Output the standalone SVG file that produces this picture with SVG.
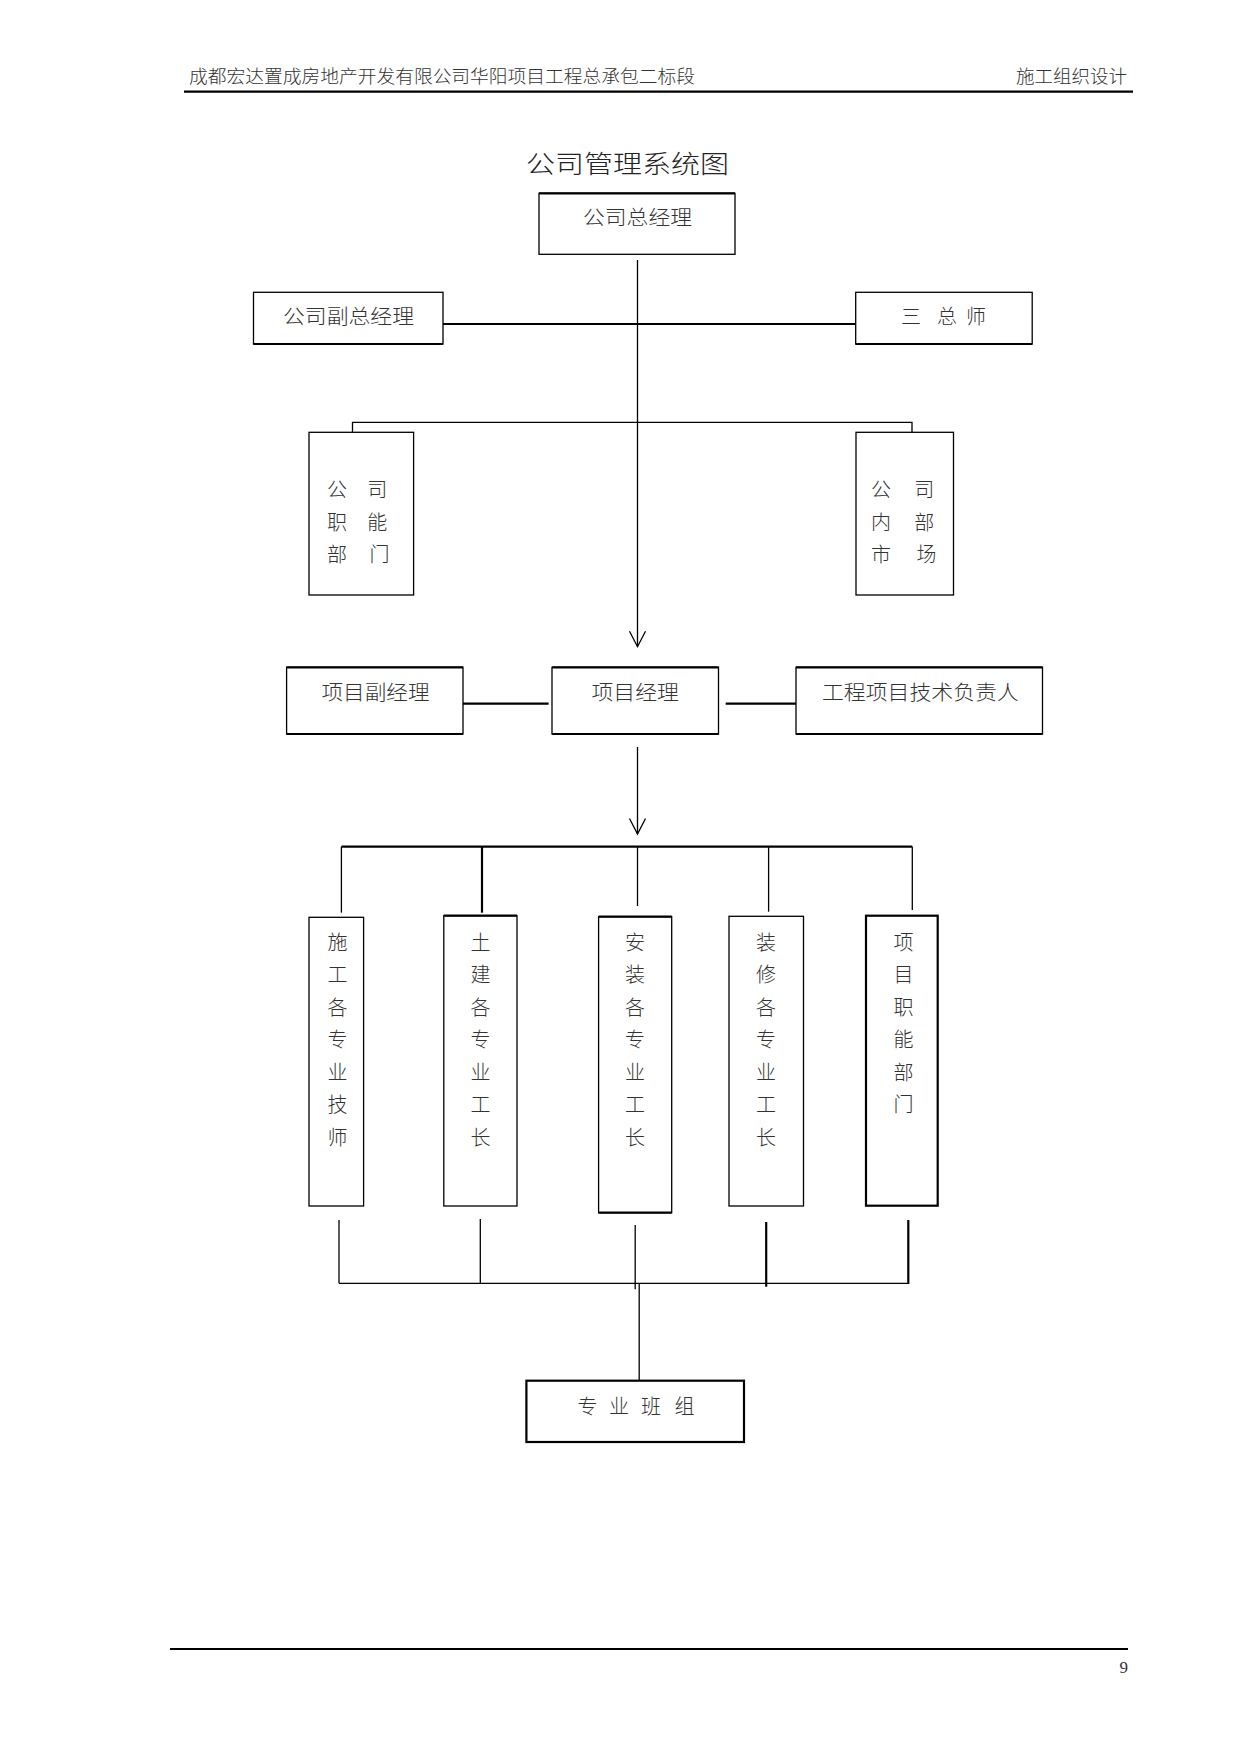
<svg xmlns="http://www.w3.org/2000/svg" width="1241" height="1754" viewBox="0 0 1241 1754">
<style>
  .t { font-family: "Noto Sans CJK SC", "Noto Sans", sans-serif; font-weight: 300; fill: #333; font-size: 20px; }
  .hd { font-family: "Noto Sans CJK SC", "Noto Sans", sans-serif; font-weight: 300; fill: #333; font-size: 18px; }
  .ttl { font-family: "Noto Sans CJK SC", "Noto Sans", sans-serif; font-weight: 300; fill: #222; font-size: 25px; }
  .pg { font-family: "Liberation Serif", serif; fill: #333; font-size: 17px; }
  .box { fill: #fff; stroke: #000; stroke-width: 1.3; }
  .boxb { fill: #fff; stroke: #000; stroke-width: 2.2; }
  .ln { fill: none; stroke: #000; stroke-width: 1.3; }
  .lnb { fill: none; stroke: #000; stroke-width: 2.2; }
  .rule { stroke: #000; stroke-width: 2.2; }
</style>
<defs>
  <marker id="arr" markerUnits="userSpaceOnUse" markerWidth="24" markerHeight="24" viewBox="-18 -12 24 24" refX="0" refY="0" orient="auto" overflow="visible">
    <path d="M -15.5 -8 L 0 0 L -15.5 8" fill="none" stroke="#000" stroke-width="1.3"/>
  </marker>
</defs>
<rect width="1241" height="1754" fill="#fff"/>

<g id="page">
  <text class="hd" x="189" y="83" textLength="506" lengthAdjust="spacingAndGlyphs">成都宏达置成房地产开发有限公司华阳项目工程总承包二标段</text>
  <text class="hd" x="1016" y="83" textLength="111" lengthAdjust="spacingAndGlyphs">施工组织设计</text>
  <line class="rule" x1="184" y1="91.7" x2="1133" y2="91.7"/>
  <text class="ttl" x="526" y="172.5" textLength="203" lengthAdjust="spacingAndGlyphs">公司管理系统图</text>
  <line class="rule" x1="170" y1="1649" x2="1128" y2="1649"/>
  <text class="pg" x="1128" y="1673" text-anchor="end">9</text>
</g>

<g id="connectors">
  <line class="ln" x1="637.5" y1="260" x2="637.5" y2="646.7" marker-end="url(#arr)"/>
  <line class="lnb" x1="443" y1="324" x2="855" y2="324"/>
  <polyline class="ln" points="352.5,432 352.5,422.3 912,422.3 912,432"/>
  <line class="lnb" x1="463" y1="703.7" x2="548.6" y2="703.7"/>
  <line class="lnb" x1="725.7" y1="703.7" x2="796" y2="703.7"/>
  <line class="ln" x1="637.5" y1="747" x2="637.5" y2="834" marker-end="url(#arr)"/>
  <line class="lnb" x1="341.4" y1="846.7" x2="912.3" y2="846.7"/>
  <line class="ln" x1="341.4" y1="846.7" x2="341.4" y2="912.7" stroke-width="1"/>
  <line class="lnb" x1="482" y1="846.7" x2="482" y2="912.7"/>
  <line class="ln" x1="637.5" y1="846.7" x2="637.5" y2="906" stroke-width="1.6"/>
  <line class="ln" x1="768.6" y1="846.7" x2="768.6" y2="911.7"/>
  <line class="ln" x1="912.3" y1="846.7" x2="912.3" y2="910"/>
  <line class="ln" x1="339" y1="1220" x2="339" y2="1283.3" stroke-width="1"/>
  <line class="ln" x1="480.3" y1="1219" x2="480.3" y2="1283.3" stroke-width="1"/>
  <line class="ln" x1="635.2" y1="1225" x2="635.2" y2="1289.3"/>
  <line class="lnb" x1="766.2" y1="1222" x2="766.2" y2="1286.7" stroke-width="2"/>
  <line class="lnb" x1="908.3" y1="1220" x2="908.3" y2="1284" stroke-width="2"/>
  <line class="ln" x1="339" y1="1283.3" x2="908.3" y2="1283.3" stroke-width="1.6"/>
  <line class="ln" x1="639.2" y1="1284" x2="639.2" y2="1380.7" stroke-width="1"/>
</g>

<g id="gm">
  <rect class="box" x="539" y="193.3" width="196" height="61"/>
  <line class="rule" x1="539" y1="193.3" x2="735" y2="193.3"/>
  <text class="t" x="583" y="225" textLength="109" lengthAdjust="spacingAndGlyphs">公司总经理</text>
</g>

<g id="vgm">
  <rect class="box" x="253.5" y="292.3" width="189.5" height="51.7"/>
  <line class="rule" x1="253.5" y1="344" x2="443" y2="344"/>
  <text class="t" x="283" y="324" textLength="131" lengthAdjust="spacingAndGlyphs">公司副总经理</text>
</g>

<g id="chiefs">
  <rect class="box" x="855.7" y="292.3" width="176.5" height="51.7"/>
  <line class="rule" x1="855.7" y1="344" x2="1032.2" y2="344"/>
  <text class="t" x="911 947 976" y="324" text-anchor="middle">三总师</text>
</g>

<g id="func-dept">
  <rect class="box" x="309" y="432.3" width="104.6" height="162.7"/>
  <text class="t" text-anchor="middle">
    <tspan x="337" y="496.5">公</tspan><tspan x="379.5" y="496.5">司</tspan>
    <tspan x="337" y="529.5">职</tspan><tspan x="379.5" y="529.5">能</tspan>
    <tspan x="337" y="562">部</tspan><tspan x="379.5" y="562">门</tspan>
  </text>
</g>

<g id="market">
  <rect class="box" x="856" y="432.3" width="97.5" height="162.7"/>
  <text class="t" text-anchor="middle">
    <tspan x="881" y="496.5">公</tspan><tspan x="926.5" y="496.5">司</tspan>
    <tspan x="881" y="529.5">内</tspan><tspan x="926.5" y="529.5">部</tspan>
    <tspan x="881" y="562">市</tspan><tspan x="926.5" y="562">场</tspan>
  </text>
</g>

<g id="pvm">
  <rect class="box" x="286.6" y="667.3" width="176.4" height="66.7"/>
  <line class="rule" x1="286.6" y1="667.3" x2="463" y2="667.3"/>
  <line class="rule" x1="286.6" y1="734" x2="463" y2="734"/>
  <text class="t" x="321.5" y="700" textLength="108" lengthAdjust="spacingAndGlyphs">项目副经理</text>
</g>

<g id="pm">
  <rect class="box" x="552" y="667.3" width="166.5" height="66.7"/>
  <line class="rule" x1="552" y1="667.3" x2="718.5" y2="667.3"/>
  <line class="rule" x1="552" y1="734" x2="718.5" y2="734"/>
  <text class="t" x="591.5" y="700" textLength="87.5" lengthAdjust="spacingAndGlyphs">项目经理</text>
</g>

<g id="tech">
  <rect class="box" x="796" y="667.3" width="246.5" height="66.7"/>
  <line class="rule" x1="796" y1="667.3" x2="1042.5" y2="667.3"/>
  <line class="rule" x1="796" y1="734" x2="1042.5" y2="734"/>
  <text class="t" x="822" y="700" textLength="196.7" lengthAdjust="spacingAndGlyphs">工程项目技术负责人</text>
</g>

<g id="techs">
  <rect class="box" x="309" y="917.3" width="54.6" height="288.7"/>
  <text class="t" text-anchor="middle">
    <tspan x="337.4" y="949.5">施</tspan><tspan x="337.4" y="982">工</tspan><tspan x="337.4" y="1014.5">各</tspan><tspan x="337.4" y="1047">专</tspan><tspan x="337.4" y="1079.5">业</tspan><tspan x="337.4" y="1112">技</tspan><tspan x="337.4" y="1144.5">师</tspan>
  </text>
</g>

<g id="civil">
  <rect class="box" x="443.8" y="915.7" width="73.2" height="290.3"/>
  <line class="rule" x1="443.8" y1="915.7" x2="517" y2="915.7"/>
  <text class="t" text-anchor="middle">
    <tspan x="480.4" y="949.5">土</tspan><tspan x="480.4" y="982">建</tspan><tspan x="480.4" y="1014.5">各</tspan><tspan x="480.4" y="1047">专</tspan><tspan x="480.4" y="1079.5">业</tspan><tspan x="480.4" y="1112">工</tspan><tspan x="480.4" y="1144.5">长</tspan>
  </text>
</g>

<g id="install">
  <rect class="box" x="598.6" y="916.7" width="73.1" height="296"/>
  <line class="rule" x1="598.6" y1="916.7" x2="671.7" y2="916.7"/>
  <line class="rule" x1="598.6" y1="1212.7" x2="671.7" y2="1212.7"/>
  <text class="t" text-anchor="middle">
    <tspan x="635" y="949.5">安</tspan><tspan x="635" y="982">装</tspan><tspan x="635" y="1014.5">各</tspan><tspan x="635" y="1047">专</tspan><tspan x="635" y="1079.5">业</tspan><tspan x="635" y="1112">工</tspan><tspan x="635" y="1144.5">长</tspan>
  </text>
</g>

<g id="decor">
  <rect class="box" x="729" y="916.3" width="74.5" height="289.7"/>
  <text class="t" text-anchor="middle">
    <tspan x="766" y="949.5">装</tspan><tspan x="766" y="982">修</tspan><tspan x="766" y="1014.5">各</tspan><tspan x="766" y="1047">专</tspan><tspan x="766" y="1079.5">业</tspan><tspan x="766" y="1112">工</tspan><tspan x="766" y="1144.5">长</tspan>
  </text>
</g>

<g id="proj-func">
  <rect class="boxb" x="866" y="915.7" width="71.7" height="290"/>
  <text class="t" text-anchor="middle">
    <tspan x="903.5" y="949.5">项</tspan><tspan x="903.5" y="982">目</tspan><tspan x="903.5" y="1014.5">职</tspan><tspan x="903.5" y="1047">能</tspan><tspan x="903.5" y="1079.5">部</tspan><tspan x="903.5" y="1112">门</tspan>
  </text>
</g>

<g id="teams">
  <rect class="boxb" x="526.4" y="1380.7" width="217.6" height="61.3" stroke-width="2.6"/>
  <text class="t" x="587.5 619 651 684.4" y="1414" text-anchor="middle">专业班组</text>
</g>
</svg>
